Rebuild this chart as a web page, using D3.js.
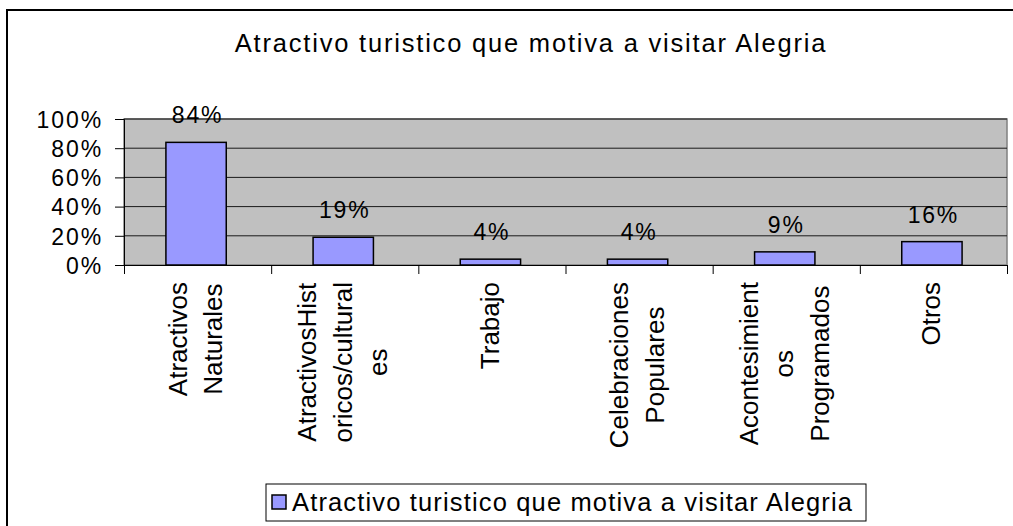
<!DOCTYPE html>
<html><head><meta charset="utf-8">
<script src="https://cdn.jsdelivr.net/npm/d3@7"></script>
<style>
body{margin:0;background:#fff}
text{font-family:"Liberation Sans",Arial,sans-serif;fill:#000}
</style>
</head><body>
<svg id="c" width="1013" height="526"></svg>
<script>
const categories = ["Atractivos Naturales","AtractivosHistoricos/culturales","Trabajo","Celebraciones Populares","Acontesimientos Programados","Otros"];
const categoryLines = [["Atractivos","Naturales"],["AtractivosHist","oricos/cultural","es"],["Trabajo"],["Celebraciones","Populares"],["Acontesimient","os","Programados"],["Otros"]];
const values = [0.84,0.19,0.04,0.04,0.09,0.16];
const valueLabels = ["84%","19%","4%","4%","9%","16%"];
const yTicks = [0,0.2,0.4,0.6,0.8,1.0];
const yTickLabels = ["0%","20%","40%","60%","80%","100%"];
const title = "Atractivo turistico que motiva a visitar Alegria";
const seriesName = "Atractivo turistico que motiva a visitar Alegria";

const svg = d3.select("#c");
const P = {left:124, right:1007, top:119, bottom:265};
const barColor = "#9999FF";

// outer chart border (extends past the picture at right/bottom)
svg.append("rect").attr("x",7).attr("y",10).attr("width",1100).attr("height",600)
  .attr("fill","#fff").attr("stroke","#000").attr("stroke-width",2);

const x = d3.scaleBand().domain(categories).range([P.left,P.right]).padding(0);
const xb = d3.scaleLinear().domain([0,categories.length]).range([P.left,P.right]);
const y = d3.scaleLinear().domain([0,1]).range([P.bottom,P.top]);

// plot area
svg.append("rect").attr("x",P.left).attr("y",P.top).attr("width",P.right-P.left).attr("height",P.bottom-P.top)
  .attr("fill","#C0C0C0").attr("stroke","#808080").attr("stroke-width",1.5);

// gridlines
svg.append("g").selectAll("line").data(yTicks.filter(d=>d>0)).join("line")
  .attr("x1",P.left).attr("x2",P.right).attr("y1",d=>y(d)).attr("y2",d=>y(d))
  .attr("stroke","#1a1a1a").attr("stroke-width",1);

// bars
const bw = x.bandwidth()*0.41;
svg.append("g").selectAll("rect").data(values).join("rect")
  .attr("x",(d,i)=>x(categories[i])+x.bandwidth()/2-bw/2-1.5)
  .attr("y",d=>y(d)).attr("width",bw).attr("height",d=>y(0)-y(d))
  .attr("fill",barColor).attr("stroke","#000").attr("stroke-width",1.5);

// y axis
const ya = svg.append("g").attr("transform",`translate(${P.left},0)`)
  .call(d3.axisLeft(y).tickValues(yTicks).tickSize(9).tickFormat((d,i)=>yTickLabels[i]));
ya.select(".domain").attr("stroke","#000");
ya.selectAll(".tick line").attr("stroke","#000");
ya.selectAll(".tick text").attr("font-size",23).attr("font-family","Liberation Sans, Arial, sans-serif")
  .attr("letter-spacing","1.9px").attr("x",-21).attr("dy","0.36em").attr("fill","#000");

// x axis
const xa = svg.append("g").attr("transform",`translate(0,${P.bottom})`)
  .call(d3.axisBottom(xb).tickValues(d3.range(categories.length+1)).tickSize(9).tickFormat(""));
xa.select(".domain").attr("stroke","#000");
xa.selectAll(".tick line").attr("stroke","#000");

// value labels
svg.append("g").selectAll("text").data(values).join("text")
  .attr("x",(d,i)=>x(categories[i])+x.bandwidth()/2)
  .attr("y",d=>y(d)-19)
  .attr("text-anchor","middle").attr("font-size",23).attr("letter-spacing","1.8px").text((d,i)=>valueLabels[i]);

// category labels (rotated, multi-line)
const lineGap = 35.5, labelTop = 282, rfs = 26;
categoryLines.forEach((lines,i)=>{
  const cx = x(categories[i]) + x.bandwidth()/2 + 7;
  const g = svg.append("g");
  const ts = g.selectAll("text").data(lines).join("text")
    .attr("font-size",rfs).attr("text-anchor","middle").text(d=>d);
  let maxLen = 0;
  ts.each(function(){ maxLen = Math.max(maxLen, this.getComputedTextLength()); });
  const cy = labelTop + maxLen/2;
  const n = lines.length;
  ts.attr("transform",(d,j)=>`translate(${cx + (j-(n-1)/2)*lineGap},${cy}) rotate(-90)`);
});

// title
svg.append("text").attr("x",531).attr("y",52).attr("text-anchor","middle")
  .attr("font-size",25.5).attr("letter-spacing","1.8px").text(title);

// legend
const lg = svg.append("g");
lg.append("rect").attr("x",266).attr("y",484).attr("width",600).attr("height",37)
  .attr("fill","#fff").attr("stroke","#000").attr("stroke-width",1);
lg.append("rect").attr("x",272).attr("y",495).attr("width",14).attr("height",14)
  .attr("fill",barColor).attr("stroke","#000").attr("stroke-width",1.5);
lg.append("text").attr("x",292).attr("y",511).attr("font-size",25.5).attr("letter-spacing","1.15px").text(seriesName);
</script>
</body></html>
